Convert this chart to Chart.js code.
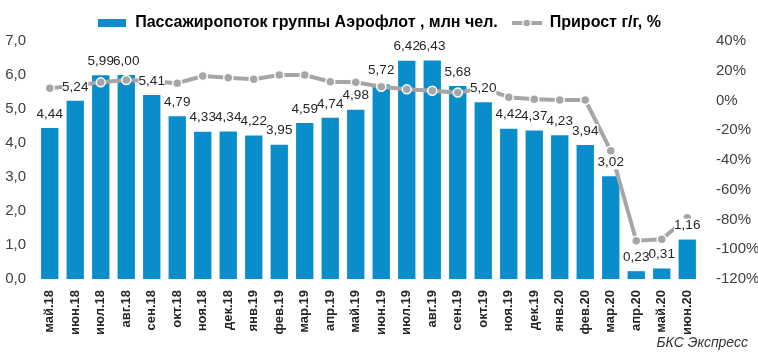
<!DOCTYPE html>
<html>
<head>
<meta charset="utf-8">
<script src="https://cdn.jsdelivr.net/npm/chart.js@4.4.1/dist/chart.umd.min.js"></script>
<style>
  html, body { margin: 0; padding: 0; background: #fff; }
  #wrap { width: 758px; height: 356px; position: relative; }
</style>
</head>
<body>
<div id="wrap"><canvas id="chart" width="758" height="356"></canvas></div>
<script>
// Months (x axis)
const months = ["май.18", "июн.18", "июл.18", "авг.18", "сен.18", "окт.18", "ноя.18", "дек.18",
  "янв.19", "фев.19", "мар.19", "апр.19", "май.19", "июн.19", "июл.19", "авг.19", "сен.19",
  "окт.19", "ноя.19", "дек.19", "янв.20", "фев.20", "мар.20", "апр.20", "май.20", "июн.20"];

// Passenger traffic, mln people (bars)
const passengers = [4.44, 5.24, 5.99, 6.00, 5.41, 4.79, 4.33, 4.34, 4.22, 3.95, 4.59, 4.74, 4.98,
  5.72, 6.42, 6.43, 5.68, 5.20, 4.42, 4.37, 4.23, 3.94, 3.02, 0.23, 0.31, 1.16];

// Year-on-year growth, % (line)
const growth = [8.3, 10.0, 12.2, 13.8, 13.0, 11.6, 16.5, 15.3, 14.3, 17.1, 17.1, 12.6, 12.2,
  9.3, 7.5, 6.6, 5.3, 8.4, 2.2, 0.8, 0.3, 0.3, -33.7, -94.3, -93.3, -78.8];

const seriesNames = ["Пассажиропоток группы Аэрофлот , млн чел.", "Прирост г/г, %"];
const source = "БКС Экспресс";

const BLUE = "#0A8ECB";
const GREY = "#A6A6A6";
const FONT = "'Liberation Sans', Arial, sans-serif";

// legend markers
function barMarker() {
  const c = document.createElement("canvas");
  c.width = 28; c.height = 8;
  const g = c.getContext("2d");
  g.fillStyle = BLUE;
  g.fillRect(0, 0, 28, 8);
  return c;
}
function lineMarker() {
  const c = document.createElement("canvas");
  c.width = 30; c.height = 12;
  const g = c.getContext("2d");
  g.strokeStyle = GREY;
  g.lineWidth = 4;
  g.beginPath(); g.moveTo(0, 6); g.lineTo(30, 6); g.stroke();
  g.fillStyle = GREY;
  g.strokeStyle = "#fff";
  g.lineWidth = 1.5;
  g.beginPath(); g.arc(15, 6, 4, 0, Math.PI * 2); g.fill(); g.stroke();
  return c;
}

// values above the bars (white backing first, then text, so neighbours don't clip)
const barLabels = {
  id: "barLabels",
  afterDatasetsDraw(chart) {
    const ctx = chart.ctx;
    const meta = chart.getDatasetMeta(0);
    ctx.save();
    ctx.font = "13.5px " + FONT;
    ctx.textAlign = "center";
    ctx.textBaseline = "middle";
    const items = meta.data.map((bar, i) => ({
      x: bar.x,
      y: bar.y - 14,
      txt: passengers[i].toFixed(2).replace(".", ",")
    }));
    ctx.fillStyle = "#fff";
    items.forEach(it => {
      const w = ctx.measureText(it.txt).width;
      ctx.fillRect(it.x - w / 2, it.y - 7, w, 14);
    });
    ctx.fillStyle = "#262626";
    items.forEach(it => ctx.fillText(it.txt, it.x, it.y));
    ctx.restore();
  },
  afterDraw(chart) {
    const ctx = chart.ctx;
    ctx.save();
    ctx.font = "italic 14px " + FONT;
    ctx.fillStyle = "#333";
    ctx.textAlign = "right";
    ctx.textBaseline = "middle";
    ctx.fillText(source, 748, 343);
    ctx.restore();
  }
};

new Chart(document.getElementById("chart"), {
  data: {
    labels: months,
    datasets: [
      {
        type: "bar",
        label: seriesNames[0],
        data: passengers,
        backgroundColor: BLUE,
        yAxisID: "y",
        order: 2,
        categoryPercentage: 1,
        barPercentage: 0.68
      },
      {
        type: "line",
        label: seriesNames[1],
        data: growth,
        borderColor: GREY,
        borderWidth: 4,
        pointRadius: 4.5,
        pointBackgroundColor: GREY,
        pointBorderColor: "#fff",
        pointBorderWidth: 1.5,
        tension: 0,
        yAxisID: "y2",
        order: 1
      }
    ]
  },
  options: {
    responsive: false,
    animation: false,
    layout: { padding: { top: 1, right: 0, left: 0, bottom: 0 } },
    plugins: {
      tooltip: { enabled: false },
      legend: {
        position: "top",
        labels: {
          usePointStyle: true,
          pointStyleWidth: 30,
          padding: 14,
          color: "#000",
          font: { family: FONT, size: 16, weight: "bold" },
          generateLabels() {
            return [
              { text: seriesNames[0], pointStyle: barMarker(), fillStyle: BLUE, strokeStyle: BLUE, lineWidth: 0, datasetIndex: 0 },
              { text: seriesNames[1], pointStyle: lineMarker(), fillStyle: GREY, strokeStyle: GREY, lineWidth: 0, datasetIndex: 1 }
            ];
          }
        }
      }
    },
    scales: {
      x: {
        grid: { display: false },
        border: { display: false },
        ticks: {
          minRotation: 90,
          maxRotation: 90,
          autoSkip: false,
          color: "#262626",
          font: { family: FONT, size: 13, weight: "bold" }
        },
        afterFit(s) { s.height = 77; }
      },
      y: {
        position: "left",
        min: 0,
        max: 7,
        grid: { display: false },
        border: { display: false },
        ticks: {
          stepSize: 1,
          color: "#404040",
          font: { family: FONT, size: 15 },
          callback: v => v.toFixed(1).replace(".", ",")
        },
        afterFit(s) { s.width = 37; }
      },
      y2: {
        position: "right",
        min: -120,
        max: 40,
        grid: { display: false },
        border: { display: false },
        ticks: {
          stepSize: 20,
          padding: 8,
          color: "#404040",
          font: { family: FONT, size: 15 },
          callback: v => v + "%"
        },
        afterFit(s) { s.width = 58; }
      }
    }
  },
  plugins: [barLabels]
});
</script>
</body>
</html>
